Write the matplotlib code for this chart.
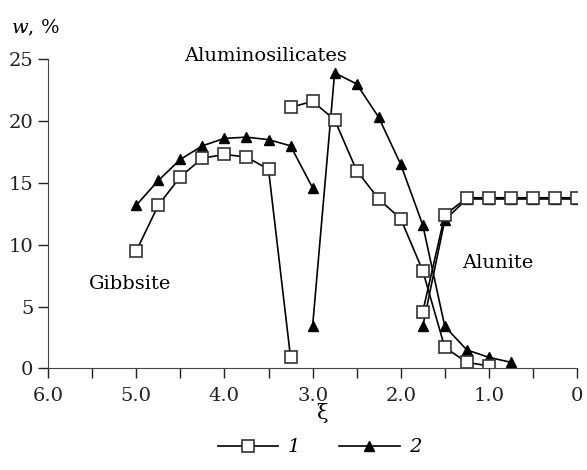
import matplotlib
matplotlib.use("Agg")
import matplotlib.pyplot as plt
from matplotlib.lines import Line2D

plt.rcParams['font.family'] = 'DejaVu Serif'
plt.rcParams['mathtext.fontset'] = 'dejavuserif'

# curve 1 (open squares), three separate branches
x1_gib = [5.0, 4.75, 4.5, 4.25, 4.0, 3.75, 3.5, 3.25]
y1_gib = [9.5, 13.2, 15.5, 17.0, 17.3, 17.1, 16.1, 0.9]
x1_als = [3.25, 3.0, 2.75, 2.5, 2.25, 2.0, 1.75, 1.5, 1.25, 1.0]
y1_als = [21.1, 21.6, 20.1, 16.0, 13.7, 12.1, 7.9, 1.7, 0.5, 0.2]
x1_alu = [1.75, 1.5, 1.25, 1.0, 0.75, 0.5, 0.25, 0.0]
y1_alu = [4.6, 12.4, 13.8, 13.8, 13.8, 13.8, 13.8, 13.8]

# curve 2 (filled triangles)
x2_gib = [5.0, 4.75, 4.5, 4.25, 4.0, 3.75, 3.5, 3.25, 3.0]
y2_gib = [13.2, 15.2, 16.9, 18.0, 18.6, 18.7, 18.5, 18.0, 14.6]
x2_als = [3.0, 2.75, 2.5, 2.25, 2.0, 1.75, 1.5, 1.25, 1.0, 0.75]
y2_als = [3.4, 23.9, 23.0, 20.3, 16.5, 11.6, 3.4, 1.5, 0.9, 0.5]
x2_alu = [1.75, 1.5, 1.25, 1.0, 0.75, 0.5, 0.25, 0.0]
y2_alu = [3.4, 12.0, 13.7, 13.7, 13.7, 13.7, 13.7, 13.7]

fig = plt.figure(figsize=(5.87, 4.70), dpi=100)
ax = fig.add_axes([0.082, 0.216, 0.901, 0.658])

sq = dict(color='black', lw=1.2, marker='s', ms=9, mfc='white', mec='#333333', mew=1.2)
tr = dict(color='black', lw=1.2, marker='^', ms=7.5, mfc='black', mec='black')

for xs, ys in [(x2_gib, y2_gib), (x2_als, y2_als), (x2_alu, y2_alu)]:
    ax.plot(xs, ys, **tr)
for xs, ys in [(x1_gib, y1_gib), (x1_als, y1_als), (x1_alu, y1_alu)]:
    ax.plot(xs, ys, **sq)

ax.set_xlim(6.0, 0.0)
ax.set_ylim(0, 25)
ax.set_xticks([6, 5, 4, 3, 2, 1, 0])
ax.set_xticklabels(['6.0', '5.0', '4.0', '3.0', '2.0', '1.0', '0'])
ax.set_xticks([5.5, 4.5, 3.5, 2.5, 1.5, 0.5], minor=True)
ax.set_yticks([0, 5, 10, 15, 20, 25])
ax.tick_params(which='both', direction='out', length=7, width=1, labelsize=14, colors='#222222')
ax.tick_params(axis='x', pad=6)
for s in ['top', 'right']:
    ax.spines[s].set_visible(False)
for s in ['left', 'bottom']:
    ax.spines[s].set_color('#444444')
ax.spines['left'].set_bounds(0, 25)

ax.text(3.53, 25.3, 'Aluminosilicates', fontsize=14, ha='center', va='center')
ax.text(5.07, 6.8, 'Gibbsite', fontsize=14, ha='center', va='center')
ax.text(0.9, 8.5, 'Alunite', fontsize=14, ha='center', va='center')

fig.text(0.06, 0.94, r'$w$, %', fontsize=14, ha='center', va='center')
fig.text(0.548, 0.122, '\u03be', fontsize=15, ha='center', va='center')

handles = [Line2D([], [], **sq), Line2D([], [], **tr)]
fig.legend(handles, ['1', '2'], loc='center', bbox_to_anchor=(0.545, 0.048), ncol=2,
           frameon=False, handlelength=3.1, handletextpad=0.5, columnspacing=2.0,
           prop={'style': 'italic', 'size': 14})

fig.savefig('out.png', dpi=100)
